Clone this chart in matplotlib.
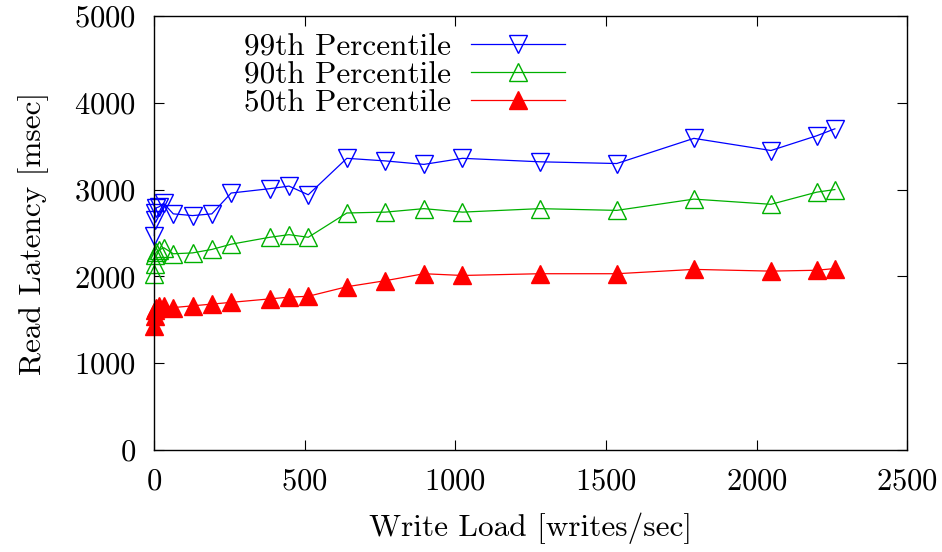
import matplotlib
matplotlib.use("Agg")
import matplotlib.pyplot as plt

plt.rcParams['font.family'] = 'cmr10'
plt.rcParams['axes.formatter.use_mathtext'] = True
plt.rcParams['mathtext.fontset'] = 'cm'

# write load (writes/sec) and read latency percentiles (msec)
write_load = [1, 2, 4, 8, 16, 32, 64, 128, 192, 256, 384, 448, 512, 640,
              768, 896, 1024, 1280, 1536, 1792, 2048, 2200, 2260]
p99 = [2470, 2650, 2730, 2790, 2800, 2840, 2720, 2700, 2720, 2960, 3010, 3040,
       2940, 3360, 3330, 3290, 3360, 3320, 3300, 3590, 3450, 3620, 3700]
p90 = [2030, 2140, 2250, 2280, 2300, 2330, 2260, 2270, 2310, 2370, 2450, 2480,
       2450, 2730, 2740, 2780, 2740, 2780, 2760, 2890, 2830, 2970, 3000]
p50 = [1430, 1540, 1610, 1640, 1660, 1660, 1640, 1660, 1680, 1700, 1740, 1760,
       1770, 1880, 1950, 2030, 2010, 2030, 2030, 2080, 2060, 2070, 2090]

fig = plt.figure(figsize=(9.42, 5.52), dpi=100)
ax = fig.add_axes([0.1635, 0.185, 0.7995, 0.786])

ms = 12.5
ax.plot(write_load, p99, color='#0000ff', lw=0.9, marker='v', ms=ms,
        mfc='none', mew=1.0, clip_on=False, label='99th Percentile')
ax.plot(write_load, p90, color='#00b000', lw=0.9, marker='^', ms=ms,
        mfc='none', mew=1.0, clip_on=False, label='90th Percentile')
ax.plot(write_load, p50, color='#ff0000', lw=0.9, marker='^', ms=ms,
        mew=1.0, clip_on=False, label='50th Percentile')

ax.set_xlim(0, 2500)
ax.set_ylim(0, 5000)
ax.set_xticks([0, 500, 1000, 1500, 2000, 2500])
ax.set_yticks([0, 1000, 2000, 3000, 4000, 5000])
ax.tick_params(direction='in', length=7, width=0.8, top=True, right=True,
               labelsize=22, pad=13)
for s in ax.spines.values():
    s.set_linewidth(1.0)

ax.set_xlabel('Write Load [writes/sec]', fontsize=22.5, labelpad=12)
ax.set_ylabel('Read Latency [msec]', fontsize=22.5, labelpad=18)

fig.legend(loc='upper right', bbox_to_anchor=(0.616, 0.968), frameon=False,
           markerfirst=False, fontsize=22.5, handlelength=3.0,
           handletextpad=0.65, labelspacing=0.0, borderpad=0)

fig.savefig('out.png', dpi=100)
